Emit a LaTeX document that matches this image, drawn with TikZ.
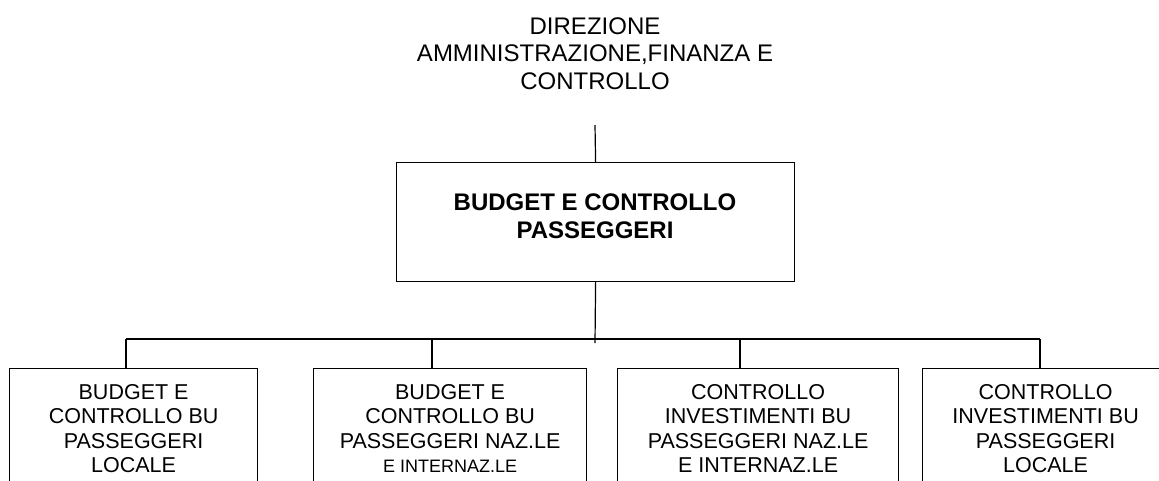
\documentclass[tikz,border=0pt]{standalone}
\usepackage{fontspec}
\setmainfont{Liberation Sans}
\begin{document}
\begin{tikzpicture}[x=1pt,y=-1pt,
  conn/.style={line width=1.2pt},
  unitbox/.style={draw, line width=1.2pt, minimum height=120pt, inner sep=0pt,
    align=center, anchor=north west, font=\fontsize{21.5}{24.3}\selectfont},
  mainbox/.style={draw, line width=1.2pt, minimum width=398pt, minimum height=119pt,
    inner sep=0pt, anchor=north west},
  titletext/.style={inner sep=0pt, align=center, anchor=north, font=\fontsize{24}{27.6}\selectfont},
  maintext/.style={inner sep=0pt, align=center, anchor=north, font=\fontsize{24}{28.5}\selectfont\bfseries}]
\useasboundingbox (0,0) rectangle (1159,480);
\clip (0,0) rectangle (1159,480);

% top unit
\node[titletext] (dir) at (595,17.4) {DIREZIONE\\AMMINISTRAZIONE,FINANZA E\\CONTROLLO};

% main box
\node[mainbox] (main) at (396,162) {};
\node[maintext] (maintxt) at (595,193.4) {BUDGET E CONTROLLO\\PASSEGGERI};

% child boxes
\node[unitbox, minimum width=248pt] (b1) at (9,368) {BUDGET E\\CONTROLLO BU\\PASSEGGERI\\LOCALE};
\node[unitbox, minimum width=273pt] (b2) at (313,368) {BUDGET E\\CONTROLLO BU\\PASSEGGERI NAZ.LE\\{\fontsize{18}{24.3}\selectfont E INTERNAZ.LE}};
\node[unitbox, minimum width=281pt] (b3) at (617,368) {CONTROLLO\\INVESTIMENTI BU\\PASSEGGERI NAZ.LE\\E INTERNAZ.LE};
\node[unitbox, minimum width=246pt] (b4) at (922,368) {CONTROLLO\\INVESTIMENTI BU\\PASSEGGERI\\LOCALE};

% connectors
\coordinate (dtop) at (595,125);
\coordinate (busmid) at (595,343);
\coordinate (d1) at (126,339);
\coordinate (d2) at (432,339);
\coordinate (d3) at (740,339);
\coordinate (d4) at (1040,339);

\draw[conn] (dtop) -- (main.north);
\draw[conn] (main.south) -- (busmid);
\draw[conn] (d1) -- (d4);
\draw[conn] (d1) -- (d1 |- b1.north);
\draw[conn] (d2) -- (d2 |- b2.north);
\draw[conn] (d3) -- (d3 |- b3.north);
\draw[conn] (d4) -- (d4 |- b4.north);
\end{tikzpicture}
\end{document}
